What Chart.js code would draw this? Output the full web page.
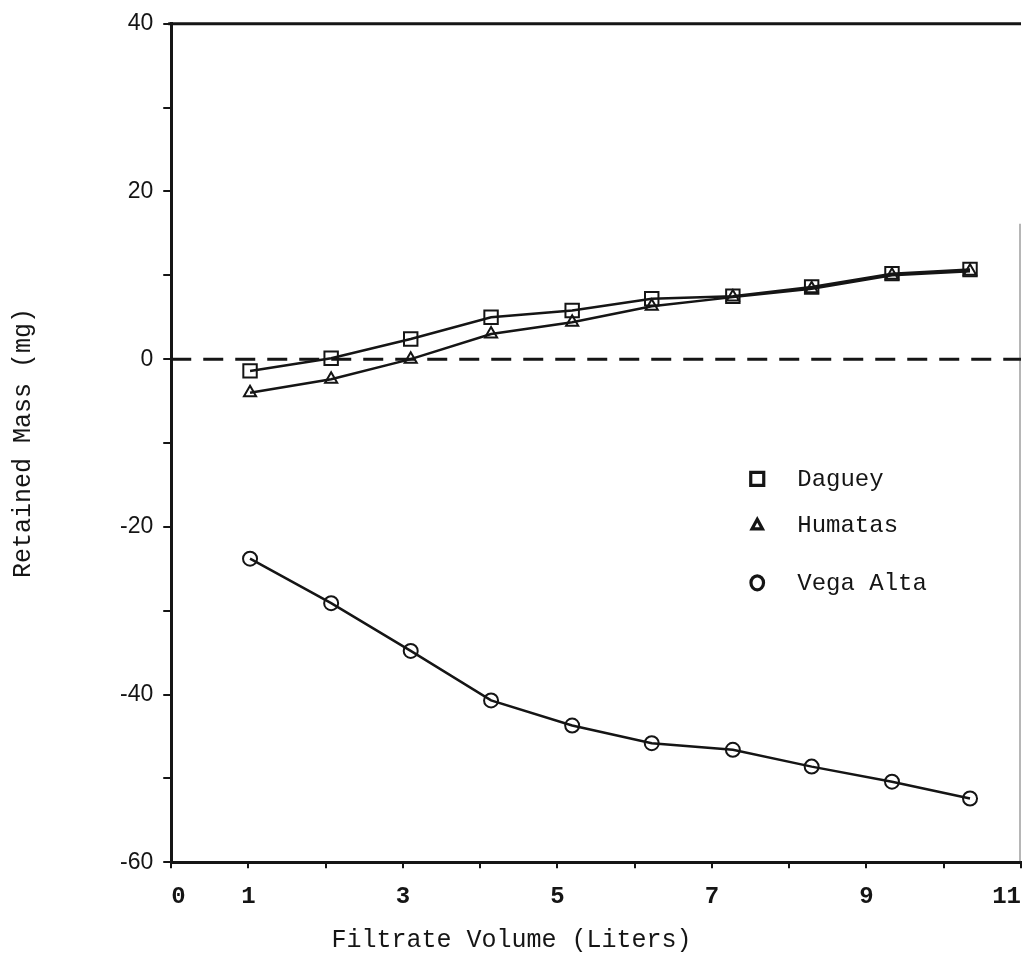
<!DOCTYPE html>
<html>
<head>
<meta charset="utf-8">
<title>Retained Mass vs Filtrate Volume</title>
<script src="https://cdn.jsdelivr.net/npm/chart.js@4/dist/chart.umd.min.js"></script>
<style>
  html, body { margin: 0; padding: 0; background: #fff; overflow: hidden; }
  #wrap { width: 1023px; height: 969px; overflow: hidden; }
</style>
</head>
<body>
<div id="wrap"><canvas id="plot" width="1035" height="969"></canvas></div>
<script>
// Filtrate volume (liters) at each sampling point
const volume   = [1.02, 2.07, 3.10, 4.14, 5.19, 6.22, 7.27, 8.29, 9.33, 10.34];
// Retained mass (mg) per soil
const daguey   = [-1.4, 0.1, 2.4, 5.0, 5.8, 7.2, 7.5, 8.6, 10.2, 10.7];
const humatas  = [-4.0, -2.4, 0.0, 3.0, 4.4, 6.3, 7.4, 8.4, 10.0, 10.5];
const vegaAlta = [-23.8, -29.1, -34.8, -40.7, -43.7, -45.8, -46.6, -48.6, -50.4, -52.4];
// Zero reference line
const zeroX = [0, 11];
const zeroY = [0, 0];
// Axis tick labels
const xTickLabels = [0, 1, 3, 5, 7, 9, 11];
const yTickLabels = [40, 20, 0, -20, -40, -60];

const ink = '#151515';
const mono = '"Liberation Mono", "DejaVu Sans Mono", monospace';

const pts = (xs, ys) => xs.map((x, i) => ({ x: x, y: ys[i] }));

function series(label, ys, style, radius) {
  return {
    label: label,
    data: pts(volume, ys),
    borderColor: ink,
    backgroundColor: 'rgba(0,0,0,0)',
    borderWidth: 2.5,
    pointStyle: style,
    pointRadius: radius,
    pointBorderWidth: 2,
    pointBorderColor: ink,
    pointBackgroundColor: 'rgba(0,0,0,0)',
    tension: 0,
    inKey: true
  };
}

function drawMarker(ctx, style, x, y, r) {
  ctx.beginPath();
  if (style === 'rect') {
    ctx.rect(x - r, y - r, 2 * r, 2 * r);
  } else if (style === 'triangle') {
    ctx.moveTo(x, y - r);
    ctx.lineTo(x + r * 0.95, y + r * 0.75);
    ctx.lineTo(x - r * 0.95, y + r * 0.75);
    ctx.closePath();
  } else {
    ctx.ellipse(x, y, r * 0.9, r, 0, 0, Math.PI * 2);
  }
  ctx.stroke();
}

// Key drawn inside the plot area, lower right
const seriesKey = {
  id: 'seriesKey',
  afterDatasetsDraw(chart) {
    const { ctx, chartArea } = chart;
    const rowsY = [455, 501, 559];
    const sizes = [6.5, 5.5, 7];
    const items = chart.data.datasets.filter(d => d.inKey);
    ctx.save();
    ctx.strokeStyle = ink;
    ctx.fillStyle = ink;
    ctx.lineWidth = 3.2;
    ctx.font = '24px ' + mono;
    ctx.textBaseline = 'middle';
    ctx.textAlign = 'left';
    items.forEach((d, i) => {
      const y = chartArea.top + rowsY[i];
      drawMarker(ctx, d.pointStyle, chartArea.left + 586, y, sizes[i]);
      ctx.fillText(d.label, chartArea.left + 626, y + 1);
    });
    ctx.restore();
  }
};

// Top edge and faint right edge of the plotting frame
const frame = {
  id: 'frame',
  afterDraw(chart) {
    const { ctx, chartArea } = chart;
    ctx.save();
    ctx.strokeStyle = ink;
    ctx.lineWidth = 3;
    ctx.beginPath();
    ctx.moveTo(chartArea.left - 3, chartArea.top);
    ctx.lineTo(chartArea.right, chartArea.top);
    ctx.stroke();
    ctx.strokeStyle = 'rgba(40,40,40,0.45)';
    ctx.lineWidth = 1.5;
    ctx.beginPath();
    ctx.moveTo(chartArea.right - 1, chartArea.top + 200);
    ctx.lineTo(chartArea.right - 1, chartArea.bottom);
    ctx.stroke();
    ctx.restore();
  }
};

new Chart(document.getElementById('plot'), {
  type: 'line',
  data: {
    datasets: [
      series('Daguey', daguey, 'rect', 9.5),
      series('Humatas', humatas, 'triangle', 7),
      series('Vega Alta', vegaAlta, 'circle', 7),
      {
        label: 'zero',
        data: pts(zeroX, zeroY),
        borderColor: ink,
        borderWidth: 3,
        borderDash: [20, 12],
        pointRadius: 0,
        fill: false
      }
    ]
  },
  options: {
    responsive: false,
    animation: false,
    layout: { padding: { left: 0, right: 12, top: 23, bottom: 0 } },
    plugins: {
      legend: { display: false },
      tooltip: { enabled: false },
      title: {
        display: true,
        position: 'bottom',
        text: 'Filtrate Volume (Liters)',
        color: ink,
        font: { family: mono, size: 25, weight: 'normal' },
        padding: { top: 0, bottom: 14 }
      }
    },
    scales: {
      x: {
        type: 'linear',
        min: 0,
        max: 11,
        border: { display: true, color: ink, width: 3 },
        grid: { drawOnChartArea: false, drawTicks: true, tickLength: 6, color: ink, lineWidth: 2 },
        ticks: {
          stepSize: 1,
          autoSkip: false,
          maxRotation: 0,
          align: 'inner',
          padding: 14,
          color: ink,
          font: { family: mono, size: 24, weight: 'bold' },
          callback: v => (xTickLabels.includes(v) ? String(v) : '')
        }
      },
      y: {
        type: 'linear',
        min: -60,
        max: 40,
        border: { display: true, color: ink, width: 3 },
        grid: { drawOnChartArea: false, drawTicks: true, tickLength: 8, color: ink, lineWidth: 2 },
        ticks: {
          stepSize: 10,
          autoSkip: false,
          padding: 10,
          color: ink,
          font: { family: '"Liberation Sans", Arial, sans-serif', size: 23 },
          callback: v => (yTickLabels.includes(v) ? String(v) : '')
        },
        title: {
          display: true,
          text: 'Retained Mass (mg)',
          color: ink,
          font: { family: mono, size: 25, weight: 'normal' },
          padding: { top: 8, bottom: 72 }
        }
      }
    }
  },
  plugins: [seriesKey, frame]
});
</script>
</body>
</html>
